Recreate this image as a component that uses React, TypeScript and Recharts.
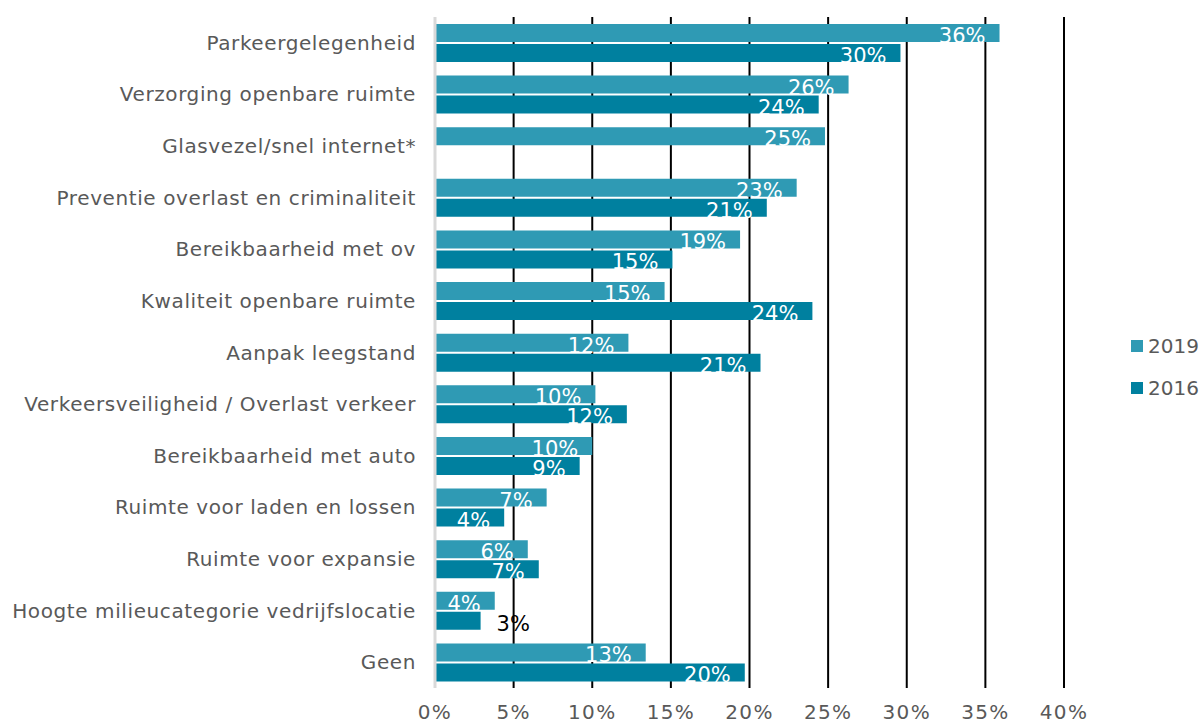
import { BarChart, Bar, XAxis, YAxis, CartesianGrid, LabelList } from "recharts";

const categories = [
  "Parkeergelegenheid",
  "Verzorging openbare ruimte",
  "Glasvezel/snel internet*",
  "Preventie overlast en criminaliteit",
  "Bereikbaarheid met ov",
  "Kwaliteit openbare ruimte",
  "Aanpak leegstand",
  "Verkeersveiligheid / Overlast verkeer",
  "Bereikbaarheid met auto",
  "Ruimte voor laden en lossen",
  "Ruimte voor expansie",
  "Hoogte milieucategorie vedrijfslocatie",
  "Geen",
];

const values2019 = [35.9, 26.3, 24.8, 23.0, 19.4, 14.6, 12.3, 10.2, 10.0, 7.1, 5.9, 3.8, 13.4];
const values2016 = [29.6, 24.4, null, 21.1, 15.1, 24.0, 20.7, 12.2, 9.2, 4.4, 6.6, 2.9, 19.7];

const xTicks = [0, 5, 10, 15, 20, 25, 30, 35, 40];

const data = categories.map((c, i) => ({ cat: c, y2019: values2019[i], y2016: values2016[i] }));

const C2019 = "#2f9ab4";
const C2016 = "#00809f";
const GREY = "#595959";
const FONT = "'DejaVu Sans', Verdana, sans-serif";

function CatTick({ x, y, payload }: any) {
  return (
    <text x={x} y={y} dy={7} textAnchor="end" fill={GREY} fontSize={20} letterSpacing={0.6} fontFamily={FONT}>
      {payload.value}
    </text>
  );
}

function PctTick({ x, y, payload }: any) {
  return (
    <text x={x} y={y} dy={23} textAnchor="middle" fill={GREY} fontSize={20} letterSpacing={1.3} fontFamily={FONT}>
      {payload.value}%
    </text>
  );
}

function BarLabel({ x, y, width, height, value }: any) {
  if (value == null) return null;
  const txt = `${Math.round(value)}%`;
  const base = y + height + 1;
  if (width < 50) {
    return (
      <text x={x + width + 16} y={base} fill="#000" fontSize={21} fontFamily={FONT}>{txt}</text>
    );
  }
  return (
    <text x={x + width - 14} y={base} textAnchor="end" fill="#fff" fontSize={21} fontFamily={FONT}>{txt}</text>
  );
}

function LegendBox() {
  const items = [
    { name: "2019", color: C2019 },
    { name: "2016", color: C2016 },
  ];
  return (
    <div style={{ position: "absolute", left: 1131, top: 334, width: 72, fontFamily: FONT }}>
      {items.map((it) => (
        <div key={it.name} style={{ display: "flex", alignItems: "center", height: 24, marginBottom: 18 }}>
          <div style={{ width: 12, height: 12, background: it.color, marginRight: 5 }} />
          <span style={{ color: GREY, fontSize: 20 }}>{it.name}</span>
        </div>
      ))}
    </div>
  );
}

export default function App() {
  return (
    <div style={{ position: "absolute", left: 0, top: 0, width: 1203, height: 724, background: "#fff" }}>
      <BarChart
        width={1203}
        height={724}
        data={data}
        layout="vertical"
        margin={{ top: 17, right: 139, bottom: 6, left: 0 }}
        barSize={18}
        barGap={2}
      >
        <CartesianGrid horizontal={false} stroke="#000" strokeWidth={2} />
        <XAxis
          type="number"
          domain={[0, 40]}
          ticks={xTicks}
          axisLine={false}
          tickLine={false}
          tick={<PctTick />}
        />
        <YAxis
          type="category"
          dataKey="cat"
          width={435}
          tickLine={false}
          axisLine={{ stroke: "#d9d9d9", strokeWidth: 3 }}
          tick={<CatTick />}
          tickMargin={13}
          interval={0}
        />
        <Bar dataKey="y2019" name="2019" fill={C2019} isAnimationActive={false}>
          <LabelList dataKey="y2019" content={<BarLabel />} />
        </Bar>
        <Bar dataKey="y2016" name="2016" fill={C2016} isAnimationActive={false}>
          <LabelList dataKey="y2016" content={<BarLabel />} />
        </Bar>
      </BarChart>
      <LegendBox />
    </div>
  );
}
